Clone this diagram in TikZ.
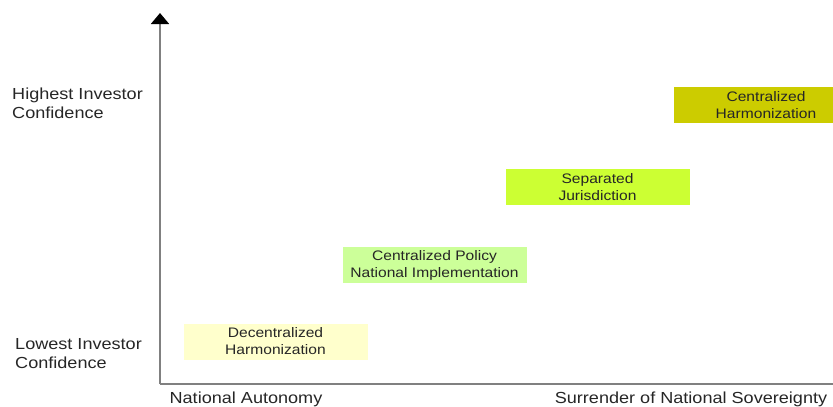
\documentclass[tikz,border=0pt]{standalone}
\usepackage{fontspec}
\setmainfont{Liberation Sans}[FakeStretch=1.13]
\usepackage{tikz}
\usetikzlibrary{positioning,arrows.meta}

\begin{document}
\begin{tikzpicture}[x=1pt,y=-1pt,
    every node/.style={inner sep=0pt, text=black!85},
    stagebox/.style={rectangle, minimum width=184pt, minimum height=36pt, align=center,
        font=\fontsize{13.8}{17}\selectfont},
    axislabel/.style={align=left, font=\fontsize{16}{19}\selectfont}]
            % fills for the four stages, light to dark
            \definecolor{stage1}{HTML}{FFFFCC}
            \definecolor{stage2}{HTML}{CCFF99}
            \definecolor{stage3}{HTML}{CCFF33}
            \definecolor{stage4}{HTML}{CCCC00}
            \definecolor{axisgray}{HTML}{808080}
            \useasboundingbox (0,0) rectangle (833,407);
            \clip (0,0) rectangle (833,407);
            % axes
            \coordinate (origin) at (160,384);
            \coordinate (ytop) at (160,13);
            \coordinate (xend) at (833,384);
            \draw[axisgray, line width=1.6pt, -{Triangle[width=18pt,length=11pt,black]}] (origin) -- (ytop);
            \draw[axisgray, line width=1.6pt] (origin) -- (xend);
            % axis labels
            \node[axislabel, anchor=west] (high) at (12,103) {Highest Investor\\Confidence};
            \node[axislabel, anchor=west] (low) at (15,354) {Lowest Investor\\Confidence};
            \node[axislabel] (auto) at (246,399) {National Autonomy};
            \node[axislabel] (surr) at (691,399) {Surrender of National Sovereignty};
            % stages
            \node[stagebox, fill=stage1] (dec) at (275.5,341.5) {Decentralized\\Harmonization};
            \node[stagebox, fill=stage2] (cpol) at (434.5,265) {Centralized Policy\\National Implementation};
            \node[stagebox, fill=stage3] (sep) at (597.5,187) {Separated\\Jurisdiction};
            \node[stagebox, fill=stage4] (charm) at (766,105) {Centralized\\Harmonization};
        \end{tikzpicture}
\end{document}
